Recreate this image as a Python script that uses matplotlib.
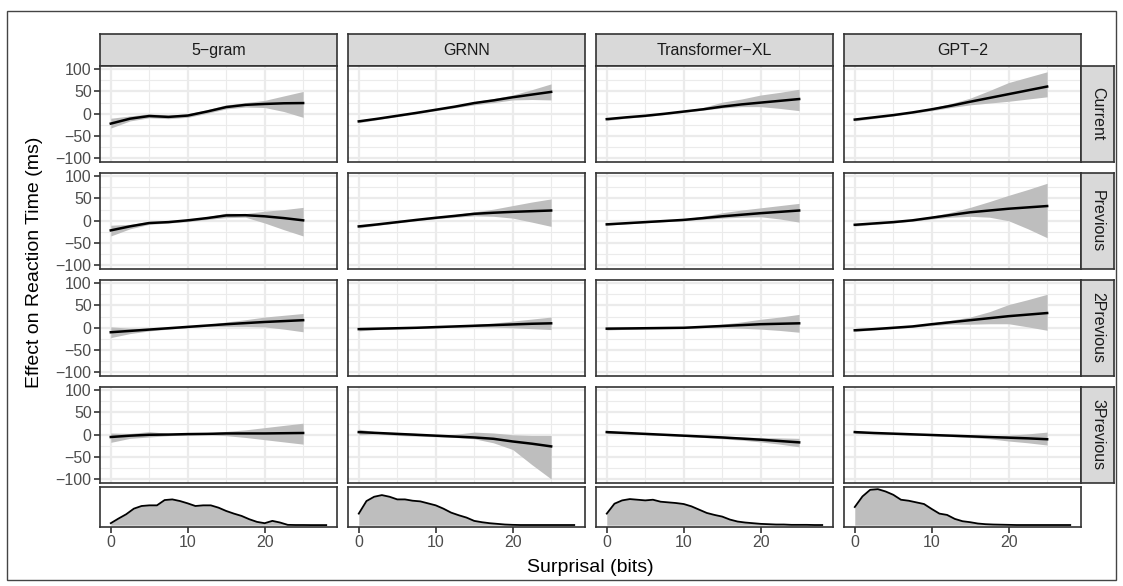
import numpy as np
import matplotlib
matplotlib.use('Agg')
import matplotlib.pyplot as plt
from matplotlib.patches import Rectangle

plt.rcParams['font.family'] = ['Liberation Sans', 'DejaVu Sans']

models = ['5−gram', 'GRNN', 'Transformer−XL', 'GPT−2']
lags = ['Current', 'Previous', '2Previous', '3Previous']

# smooth fits (effect in ms) read at these surprisal values
x_fit = [0, 2.5, 5, 7.5, 10, 12.5, 15, 17.5, 20, 22.5, 25]

fit_current = {
    '5−gram': [-22, -11, -5, -7, -4, 5, 15, 20, 22, 23.5, 24],
    'GRNN': [-17, -11, -4.5, 2, 9, 16, 24, 30, 37, 43, 49],
    'Transformer−XL': [-12, -8, -4.5, 0, 5, 10, 16, 21, 25, 29, 33],
    'GPT−2': [-13, -8, -3, 3, 10, 18, 27, 35.5, 44, 52.5, 61],
}
lo_current = {
    '5−gram': [-32, -16, -9, -11, -8, 1, 11, 15, 14, 5, -8],
    'GRNN': [-20, -13, -6.5, 0, 7, 13.5, 20, 25, 31, 32, 31],
    'Transformer−XL': [-15, -10, -6.5, -2, 3, 8, 13, 16, 16, 12, 7],
    'GPT−2': [-16, -10.5, -5, 1, 7, 14, 20, 24, 28, 33, 38],
}
hi_current = {
    '5−gram': [-10, -5, 0, -3, 0, 9, 20, 25, 30, 40, 50],
    'GRNN': [-14, -9, -2.5, 4, 11, 18, 27, 34, 42, 54, 67],
    'Transformer−XL': [-9, -6, -2.5, 2, 7, 14, 26, 33, 42, 48, 55],
    'GPT−2': [-10, -5.5, -1, 5, 13, 23, 35, 52, 70, 82, 94],
}

fit_prev = {
    '5−gram': [-21.5, -12.5, -5, -3, 1, 6, 12, 12.5, 10, 6, 1],
    'GRNN': [-12.6, -8, -3, 2, 6.7, 11, 15.6, 18, 20, 21.5, 23],
    'Transformer−XL': [-8, -5.5, -3, -0.5, 2, 6, 10, 13.5, 17, 20, 23],
    'GPT−2': [-9, -6, -3, 1, 7, 13, 19, 23, 27, 30, 33],
}
lo_prev = {
    '5−gram': [-34, -18, -8, -5, -2, 3, 7, 8, -5, -20, -34],
    'GRNN': [-16, -10, -5, 0, 4.5, 8, 11, 10, 6, -3, -12.6],
    'Transformer−XL': [-10, -7, -4.5, -2, 0, 3, 6, 8, 9, 4, -3],
    'GPT−2': [-12, -8, -5, -1, 4, 8, 10, 8, 0, -18, -38],
}
hi_prev = {
    '5−gram': [-10, -8, -1.5, -1, 3, 9, 17, 16, 21.5, 25, 30],
    'GRNN': [-9, -6, -1, 4, 9, 14, 20, 26, 34, 42, 49],
    'Transformer−XL': [-6, -4, -1.5, 1, 4, 10, 18, 24, 29, 34, 39],
    'GPT−2': [-6, -4, -1, 3, 10, 19, 30, 43, 57, 70, 84],
}

fit_prev2 = {
    '5−gram': [-10, -7, -4, -1, 2, 5, 8, 10.5, 13, 15, 17],
    'GRNN': [-3, -2, -1, 0, 1.5, 3, 4.5, 6, 7.5, 9, 10],
    'Transformer−XL': [-2, -1.5, -1, -0.5, 0, 2, 4, 6, 8, 9, 10],
    'GPT−2': [-5.6, -3, 0, 3, 8, 12.5, 17, 21.5, 26, 29.5, 33],
}
lo_prev2 = {
    '5−gram': [-22, -13, -7, -3, 0, 3, 3, 3, 2, -3, -9],
    'GRNN': [-7, -4, -2.5, -1.5, 0, 1, 1.5, 1.5, 0, -2, -4],
    'Transformer−XL': [-5, -3.5, -2.5, -2, -1.5, 0, 0, -1, -3, -6, -10],
    'GPT−2': [-8, -5, -2, 1, 5, 8, 8, 9, 9, 2, -5.6],
}
hi_prev2 = {
    '5−gram': [2, -1, -1, 1, 4, 7, 13, 18, 24, 28, 32],
    'GRNN': [1, 0, 0.5, 1.5, 3, 5, 7.5, 10.5, 15, 19.5, 24],
    'Transformer−XL': [1, 0.5, 0.5, 1, 1.5, 4, 8, 13, 19, 24, 30],
    'GPT−2': [-3, -1, 2, 5, 11, 17, 24, 36, 52, 63, 75],
}

fit_prev3 = {
    '5−gram': [-5, -2, 0, 0.5, 1.5, 2, 3, 3, 3, 3.5, 4],
    'GRNN': [6, 4, 2, 0, -2, -4, -6, -9, -15, -20, -26],
    'Transformer−XL': [6, 4, 2, 0, -2, -4, -6, -8.5, -11, -14, -17],
    'GPT−2': [6, 4, 2.5, 1, -0.5, -2, -3.5, -5, -6.5, -8, -10],
}
lo_prev3 = {
    '5−gram': [-17, -8, -5, -2, -0.5, 0, -2, -6, -11, -16, -21],
    'GRNN': [0, 2, -1.5, -3, -4.5, -6, -9, -18, -33, -67, -99],
    'Transformer−XL': [3, 2, 0.5, -1.5, -3.5, -6, -9, -12, -16, -21, -27],
    'GPT−2': [3, 2, 1, -0.5, -2, -4, -6, -9, -14, -18, -23],
}
hi_prev3 = {
    '5−gram': [4, 3, 7, 3, 3, 4, 7.5, 11, 16, 21, 26],
    'GRNN': [12.6, 6, 5, 3, 0, 1, 6, 4, 0, -1.5, -1.5],
    'Transformer−XL': [9, 6, 3.5, 1.5, -0.5, -2, -3, -5, -6, -7, -8],
    'GPT−2': [9, 6, 4, 2.5, 1, 0, -1, -1.5, -1, 2, 6],
}

fits = [fit_current, fit_prev, fit_prev2, fit_prev3]
los = [lo_current, lo_prev, lo_prev2, lo_prev3]
his = [hi_current, hi_prev, hi_prev2, hi_prev3]

# surprisal density (arbitrary units) at 0..28 bits
x_dens = list(range(29))
dens = {
    '5−gram': [6, 20, 33, 50, 58, 60, 60, 76, 78, 73, 66, 58, 60, 60, 53,
               43, 35, 28, 18, 10, 6, 13, 8, 1, 0.5, 0.5, 0.3, 0.3, 0.3],
    'GRNN': [35, 73, 86, 91, 86, 78, 78, 74, 72, 66, 60, 50, 38, 30, 23,
             13, 9, 6, 4, 2, 1, 0.5, 0.5, 0.5, 0.5, 0.5, 0.5, 0.5, 0.5],
    'Transformer−XL': [35, 65, 75, 79, 77, 75, 77, 71, 69, 67, 64, 57, 47, 37,
                       31, 26, 17, 11, 8, 6, 4, 3, 2, 2, 1, 1, 1, 0.5, 0.5],
    'GPT−2': [55, 87, 107, 109, 102, 92, 77, 74, 69, 64, 49, 35, 31, 19, 12,
              9, 5, 3, 2, 1.5, 1, 0.5, 0.5, 0.5, 0.5, 0.5, 0.5, 0.5, 0.5],
}

W, H = 1123, 586
fig = plt.figure(figsize=(W / 100, H / 100), dpi=100)

def box(l, t, w, h):
    return [l / W, 1 - (t + h) / H, w / W, h / H]

dark = '#333333'
grid = '#EBEBEB'
band = '#BEBEBE'
tcol = '#4D4D4D'
fs_tick = 11.5
fs_title = 14

def frame(ax):
    for s in ax.spines.values():
        s.set_color(dark)
        s.set_linewidth(1.2)

# outer border
fig.patches.append(Rectangle((7 / W, 1 - 580 / H), 1109 / W, 569 / H,
                             transform=fig.transFigure, fill=False,
                             edgecolor='#444444', lw=1.0))

col_l = [100, 348, 596, 844]
row_t = [66, 173, 280, 387]
pw, ph = 237, 96

for i, m in enumerate(models):
    # column strip
    sa = fig.add_axes(box(col_l[i], 34, pw, 32))
    sa.set_facecolor('#D9D9D9')
    sa.set_xticks([]); sa.set_yticks([])
    frame(sa)
    sa.text(0.5, 0.47, m, ha='center', va='center', fontsize=fs_tick, color='#1A1A1A',
            transform=sa.transAxes)

    for j in range(4):
        ax = fig.add_axes(box(col_l[i], row_t[j], pw, ph))
        ax.fill_between(x_fit, los[j][m], his[j][m], color=band, lw=0, zorder=2)
        ax.plot(x_fit, fits[j][m], color='black', lw=1.8, zorder=3)
        ax.set_xlim(-1.4, 29.4)
        ax.set_ylim(-108, 107)
        ax.set_xticks([0, 10, 20])
        ax.set_xticks([5, 15, 25], minor=True)
        ax.set_yticks([-100, -50, 0, 50, 100])
        ax.set_yticks([-75, -25, 25, 75], minor=True)
        ax.grid(which='major', color=grid, lw=1.6, zorder=0)
        ax.grid(which='minor', color=grid, lw=0.8, zorder=0)
        ax.set_axisbelow(True)
        ax.tick_params(axis='x', which='both', bottom=False, labelbottom=False)
        ax.tick_params(axis='y', which='minor', left=False)
        if i == 0:
            ax.tick_params(axis='y', which='major', length=4, width=1.2,
                           color=dark, labelsize=fs_tick, labelcolor=tcol, pad=2)
        else:
            ax.tick_params(axis='y', which='major', left=False, labelleft=False)
        frame(ax)

        if i == 3:
            ra = fig.add_axes(box(1081, row_t[j], 33, ph))
            ra.set_facecolor('#D9D9D9')
            ra.set_xticks([]); ra.set_yticks([])
            frame(ra)
            ra.text(0.5, 0.5, lags[j], ha='center', va='center', rotation=-90,
                    fontsize=fs_tick, color='#1A1A1A', transform=ra.transAxes)

    # density of surprisal
    da = fig.add_axes(box(col_l[i], 487, pw, 40))
    da.fill_between(x_dens, 0, dens[m], color=band, lw=0)
    da.plot(x_dens, dens[m], color='black', lw=1.3)
    da.set_xlim(-1.4, 29.4)
    da.set_ylim(-5.5, 115.5)
    da.set_xticks([0, 10, 20])
    da.set_yticks([])
    da.tick_params(axis='x', length=4, width=1.2, color=dark, labelsize=fs_tick,
                   labelcolor=tcol, pad=2)
    frame(da)

fig.text(590 / W, 1 - 567 / H, 'Surprisal (bits)', ha='center', va='center',
         fontsize=fs_title, color='black')
fig.text(35 / W, 1 - 262 / H, 'Effect on Reaction Time (ms)', ha='center',
         va='center', rotation=90, fontsize=fs_title, color='black')

fig.savefig('out.png', dpi=100)
